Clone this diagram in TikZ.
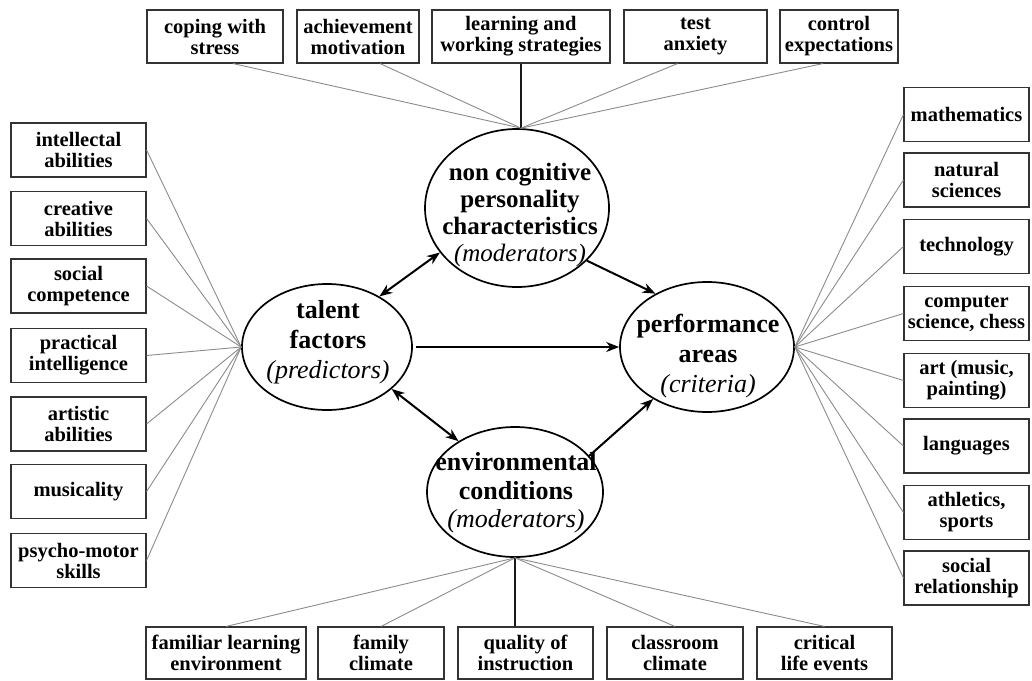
\documentclass[tikz,border=0pt]{standalone}
\usepackage{fontspec}
\setmainfont{Liberation Serif}
\usetikzlibrary{shapes.geometric,arrows.meta,calc}
\begin{document}
\begin{tikzpicture}[x=1pt,y=-1pt,
  box/.style={draw=black!80,line width=1.1pt,minimum height=53pt,inner sep=0pt,align=center,
    font=\fontsize{20.5}{21}\selectfont\bfseries},
  ell/.style={draw=black,line width=1.7pt,ellipse,inner sep=0pt},
  etext/.style={align=center,inner sep=0pt},
  fan/.style={draw=black!45,line width=0.9pt},
  stem/.style={draw=black!90,line width=1.5pt},
  arr/.style={line width=2pt,-{Stealth[length=13pt,width=10pt]}},
  darr/.style={line width=2pt,{Stealth[length=13pt,width=10pt]}-{Stealth[length=13pt,width=10pt]}}]

\fill[white] (0,0) rectangle (1032,680);
\useasboundingbox (0,0) rectangle (1032,680);

% top boxes
\node[box,minimum width=136pt] (cop)  at (215,36.5)   {coping with\\stress};
\node[box,minimum width=122pt] (ach)  at (358,36.5)   {achievement\\motivation};
\node[box,minimum width=178pt] (learn) at (521,36.5)  {learning and\\working strategies};
\node[box,minimum width=143pt] (test) at (695.5,36.5) {test\\anxiety};
\node[box,minimum width=118pt] (ctrl) at (839,36.5)   {control\\expectations};

% left boxes
\node[box,minimum width=135pt,minimum height=54pt] (l1) at (78.5,150)   {intellectal\\abilities};
\node[box,minimum width=135pt,minimum height=54pt] (l2) at (78.5,218.5) {creative\\abilities};
\node[box,minimum width=135pt,minimum height=54pt] (l3) at (78.5,286)   {social\\competence};
\node[box,minimum width=135pt,minimum height=54pt] (l4) at (78.5,355.5) {practical\\intelligence};
\node[box,minimum width=135pt,minimum height=54pt] (l5) at (78.5,424)   {artistic\\abilities};
\node[box,minimum width=135pt,minimum height=54pt] (l6) at (78.5,491.5) {musicality};
\node[box,minimum width=135pt,minimum height=54pt] (l7) at (78.5,560.5) {psycho-motor\\skills};

% right boxes
\node[box,minimum width=125pt,minimum height=54pt] (r1) at (966.5,114.5) {mathematics};
\node[box,minimum width=125pt,minimum height=54pt] (r2) at (966.5,180)   {natural\\sciences};
\node[box,minimum width=125pt,minimum height=54pt] (r3) at (966.5,246.5) {technology};
\node[box,minimum width=125pt,minimum height=54pt] (r4) at (966.5,313.5) {computer\\science, chess};
\node[box,minimum width=125pt,minimum height=54pt] (r5) at (966.5,380.5) {art (music,\\painting)};
\node[box,minimum width=125pt,minimum height=54pt] (r6) at (966.5,446)   {languages};
\node[box,minimum width=125pt,minimum height=54pt] (r7) at (966.5,512.5) {athletics,\\sports};
\node[box,minimum width=125pt,minimum height=54pt] (r8) at (966.5,578)   {social\\relationship};

% bottom boxes
\node[box,minimum width=160pt,minimum height=52pt] (b1) at (226,653)   {familiar learning\\environment};
\node[box,minimum width=126pt,minimum height=52pt] (b2) at (381,653)   {family\\climate};
\node[box,minimum width=135pt,minimum height=52pt] (b3) at (525.5,653) {quality of\\instruction};
\node[box,minimum width=136pt,minimum height=52pt] (b4) at (675,653)   {classroom\\climate};
\node[box,minimum width=135pt,minimum height=52pt] (b5) at (824.5,653) {critical\\life events};

% ellipses
\node[ell,minimum width=170pt,minimum height=126pt] (tal)  at (327,347) {};
\node[ell,minimum width=184pt,minimum height=158pt] (nc)   at (517,208) {};
\node[ell,minimum width=174pt,minimum height=130pt] (perf) at (707,347) {};
\node[ell,minimum width=176pt,minimum height=130pt] (env)  at (515,492) {};

\node[etext,font=\fontsize{26}{30}\selectfont\bfseries] (taltx) at (328,342)
  {talent\\factors\\{\mdseries\itshape (predictors)}};
\node[etext,font=\fontsize{25}{27}\selectfont\bfseries] (nctx) at (520,215)
  {non cognitive\\personality\\characteristics\\{\mdseries\itshape (moderators)}};
\node[etext,font=\fontsize{26}{30}\selectfont\bfseries] (perftx) at (708,356)
  {performance\\areas\\{\mdseries\itshape (criteria)}};
\node[etext,font=\fontsize{26}{28.5}\selectfont\bfseries] (envtx) at (516,493)
  {environmental\\conditions\\{\mdseries\itshape (moderators)}};

% fan points
\coordinate (ncfan) at (nc.north -| learn.south);
\coordinate (envfan) at (env.south);

% top connectors
\draw[fan] ([xshift=18pt]cop.south) -- (ncfan);
\draw[fan] ([xshift=22pt]ach.south) -- (ncfan);
\draw[stem] (learn.south) -- (ncfan);
\draw[fan] ([xshift=-18pt]test.south) -- (ncfan);
\draw[fan] ([xshift=-16pt]ctrl.south) -- (ncfan);

% left connectors
\foreach \n in {l1,l2,l3,l4,l5,l6,l7} \draw[fan] (\n.east) -- (tal.west);
% right connectors
\foreach \n in {r1,r2,r3,r4,r5,r6,r7,r8} \draw[fan] (perf.east) -- (\n.west);
% bottom connectors
\draw[fan] (envfan) -- (b1.north);
\draw[fan] (envfan) -- (b2.north);
\draw[stem] (envfan) -- (envfan |- b3.north);
\draw[fan] (envfan) -- (b4.north);
\draw[fan] (envfan) -- (b5.north);

% arrows
\draw[darr] (tal.44) -- (nc.210);
\draw[darr] (tal.-33) -- (env.138);
\draw[arr] ([xshift=3pt]tal.east) -- (perf.west);
\draw[arr] (nc.-37) -- (perf.134);
\draw[arr] (env.26) -- (perf.224);
\end{tikzpicture}
\end{document}
